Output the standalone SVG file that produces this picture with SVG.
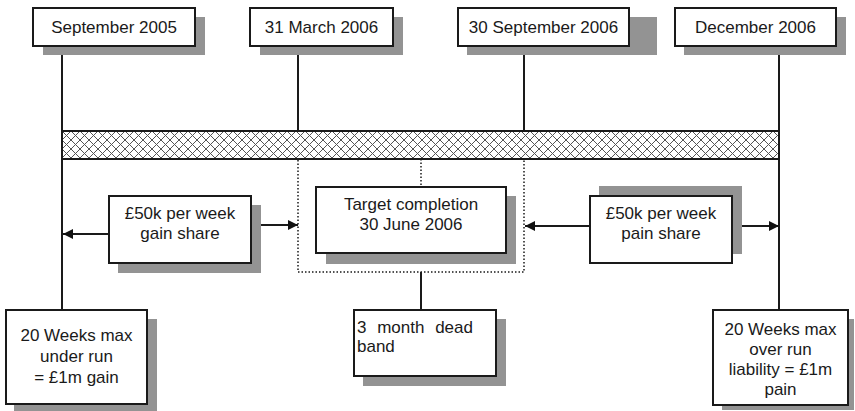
<svg xmlns="http://www.w3.org/2000/svg" width="855" height="411" viewBox="0 0 855 411">
  <defs>
    <pattern id="crosshatch" width="9" height="9" patternUnits="userSpaceOnUse" x="62" y="131">
      <rect width="9" height="9" fill="#fff"/>
      <path d="M0,0 L9,9 M9,0 L0,9" stroke="#555" stroke-width="1"/>
    </pattern>
    <marker id="arrow" viewBox="0 0 10 10" refX="10" refY="5" markerWidth="10" markerHeight="10" markerUnits="userSpaceOnUse" orient="auto">
      <path d="M0,0 L10,5 L0,10 Z" fill="#111"/>
    </marker>
  </defs>
  <style>
    .box { fill: #fff; stroke: #1a1a1a; stroke-width: 2; }
    .shadow { fill: #939393; }
    .line { stroke: #1a1a1a; stroke-width: 2; fill: none; }
    .dot { stroke: #1a1a1a; stroke-width: 1.5; fill: none; stroke-dasharray: 1.5 2; }
    .arr { stroke: #1a1a1a; stroke-width: 2; fill: none; marker-end: url(#arrow); }
    text { font-family: "Liberation Sans", Arial, sans-serif; font-size: 17px; fill: #1a1a1a; }
    .c { text-anchor: middle; }
  </style>

  <rect width="855" height="411" fill="#fff"/>

  <!-- timeline bar -->
  <g id="timeline">
    <rect x="62" y="131" width="717" height="28" fill="url(#crosshatch)" stroke="#1a1a1a" stroke-width="2"/>
  </g>

  <!-- connectors -->
  <g id="connectors">
    <line class="line" x1="62" y1="46" x2="62" y2="310"/>
    <line class="line" x1="298" y1="46" x2="298" y2="131"/>
    <line class="line" x1="524" y1="46" x2="524" y2="131"/>
    <line class="line" x1="779" y1="46" x2="779" y2="310"/>
    <line class="line" x1="421" y1="272" x2="421" y2="310"/>
    <!-- dead band outline -->
    <rect class="dot" x="298" y="159" width="226" height="113"/>
    <line class="dot" x1="421" y1="159" x2="421" y2="187"/>
    <!-- share arrows -->
    <line class="arr" x1="109" y1="234" x2="63" y2="234"/>
    <line class="arr" x1="251" y1="225" x2="298" y2="225"/>
    <line class="arr" x1="590" y1="226" x2="525" y2="226"/>
    <line class="arr" x1="732" y1="226" x2="779" y2="226"/>
  </g>

  <!-- date nodes -->
  <g id="sep2005">
    <rect class="shadow" x="43" y="17" width="162" height="38"/>
    <rect class="box" x="33" y="8" width="162" height="38"/>
    <text class="c" x="114" y="33">September 2005</text>
  </g>
  <g id="mar2006">
    <rect class="shadow" x="260" y="17" width="143" height="38"/>
    <rect class="box" x="250" y="8" width="143" height="38"/>
    <text class="c" x="321.5" y="33">31 March 2006</text>
  </g>
  <g id="sep2006">
    <rect class="shadow" x="467" y="17" width="190" height="38"/>
    <rect class="box" x="458" y="8" width="171" height="38"/>
    <text class="c" x="543.5" y="33">30 September 2006</text>
  </g>
  <g id="dec2006">
    <rect class="shadow" x="684" y="17" width="162" height="38"/>
    <rect class="box" x="675" y="8" width="161" height="38"/>
    <text class="c" x="755.5" y="33">December 2006</text>
  </g>

  <!-- middle nodes -->
  <g id="gain-share">
    <rect class="shadow" x="118" y="205" width="143" height="68"/>
    <rect class="box" x="109" y="196" width="142" height="67"/>
    <text class="c" x="180" y="219">£50k per week</text>
    <text class="c" x="180" y="239">gain share</text>
  </g>
  <g id="target">
    <rect class="shadow" x="326" y="196" width="190" height="68"/>
    <rect class="box" x="316" y="187" width="190" height="66"/>
    <text class="c" x="411" y="210">Target completion</text>
    <text class="c" x="411" y="230">30 June 2006</text>
  </g>
  <g id="pain-share">
    <rect class="shadow" x="599" y="186" width="143" height="68"/>
    <rect class="box" x="590" y="196" width="142" height="67"/>
    <text class="c" x="661" y="219">£50k per week</text>
    <text class="c" x="661" y="239">pain share</text>
  </g>

  <!-- bottom nodes -->
  <g id="under-run">
    <rect class="shadow" x="14" y="319" width="143" height="92"/>
    <rect class="box" x="6" y="310" width="141" height="94"/>
    <text class="c" x="76.5" y="341">20 Weeks max</text>
    <text class="c" x="76.5" y="362">under run</text>
    <text class="c" x="76.5" y="383">= £1m gain</text>
  </g>
  <g id="dead-band">
    <rect class="shadow" x="363" y="319" width="143" height="67"/>
    <rect class="box" x="354" y="310" width="142" height="66"/>
    <text x="357" y="333" word-spacing="6">3 month dead</text>
    <text x="357" y="352">band</text>
  </g>
  <g id="over-run">
    <rect class="shadow" x="722" y="319" width="132" height="91"/>
    <rect class="box" x="713" y="310" width="135" height="95"/>
    <text class="c" x="780.5" y="335">20 Weeks max</text>
    <text class="c" x="780.5" y="355">over run</text>
    <text class="c" x="780.5" y="375">liability = £1m</text>
    <text class="c" x="780.5" y="395">pain</text>
  </g>
</svg>
